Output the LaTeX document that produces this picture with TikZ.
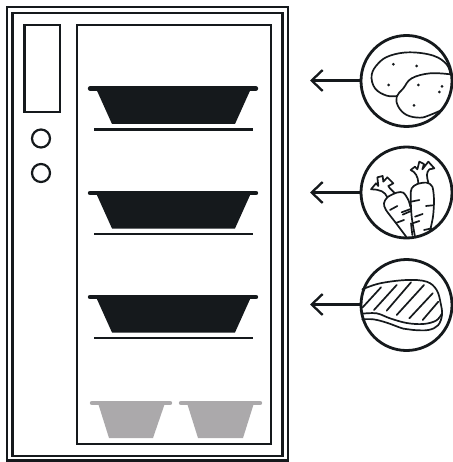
\documentclass[tikz,border=0pt]{standalone}
\usetikzlibrary{arrows.meta}
\definecolor{ink}{HTML}{15191C}
\definecolor{pale}{HTML}{ABA9AB}
\tikzset{
  frameline/.style={draw=ink,line width=2.2pt},
  knob/.style={circle,draw=ink,line width=2.2pt,minimum size=18pt,inner sep=0pt},
  foodring/.style={circle,draw=ink,line width=2.8pt,minimum size=91pt,inner sep=0pt},
  pointer/.style={draw=ink,line width=2.3pt,-{Straight Barb[length=11pt,width=21pt,line width=2.3pt]}},
  rim/.style={line width=4.4pt,line cap=round},
  shelf/.style={draw=ink,line width=2.3pt},
  sketch/.style={draw=ink,line width=1.7pt,line cap=round,line join=round},
  speck/.style={fill=ink,draw=none},
  zoomed/.style={x=0.33333pt,y=-0.33333pt}
}
\newcommand{\bigpan}[1]{%
  \fill[ink] (96,#1) -- (112,#1+35.5) -- (235,#1+35.5) -- (251,#1) -- cycle;
  \draw[ink,rim] (90,#1) -- (256,#1);
  \draw[shelf] (94,#1+41) -- (253,#1+41);
}
\newcommand{\smallpan}[4]{%
  \fill[pale] (#1,403) -- (#2,438) -- (#3,438) -- (#4,403) -- cycle;
}
\begin{document}
\begin{tikzpicture}[x=1pt,y=-1pt]
\useasboundingbox (0,0) rectangle (452,462);
\fill[white] (0,0) rectangle (452,462);
% cabinet
\draw[frameline] (7,7) rectangle (288,460.5);
\draw[frameline] (12.5,13) rectangle (282.5,456);
\draw[frameline] (77,25) rectangle (271,444);
\draw[frameline] (24.5,25) rectangle (60,112);
\node[knob] (k1) at (41,138.5) {};
\node[knob] (k2) at (41,173) {};
% pans
\bigpan{88.5}
\bigpan{193}
\bigpan{297}
\smallpan{98}{109}{153}{165}
\smallpan{187}{198}{243}{254}
\draw[pale,rim] (92,403) -- (170,403);
\draw[pale,rim] (181,403) -- (260,403);
% rings and pointers
\node[foodring] (r1) at (406.5,81) {};
\node[foodring] (r2) at (406.5,192.5) {};
\node[foodring] (r3) at (406.5,305) {};
\coordinate (t1) at (310,80.5);
\coordinate (t2) at (310,192.5);
\coordinate (t3) at (310,304.5);
\draw[pointer] (r1.west |- t1) -- (t1);
\draw[pointer] (r2.west |- t2) -- (t2);
\draw[pointer] (r3.west |- t3) -- (t3);
% potatoes
\begin{scope}[shift={(300,25)},zoomed]
\draw[sketch] plot[smooth,tension=0.65] coordinates {(451,148) (440,118) (400,92) (330,82) (270,92) (235,115) (215,150) (225,190) (260,212) (292,213)};
\draw[sketch] plot[smooth,tension=0.65] coordinates {(451,148) (390,145) (335,160) (310,190) (290,215) (295,245) (320,270) (360,278) (390,270) (425,255)};
\foreach \p in {(280,118),(350,123),(266,180),(355,180),(426,184),(418,201),(342,241)}
  \fill[speck] \p circle (4.5);
\end{scope}
% carrots
\begin{scope}[shift={(300,140)},zoomed]
\draw[sketch] plot[smooth,tension=0.5] coordinates {(345,290) (335,230) (332,170) (335,145) (352,132) (380,128) (397,140) (402,180) (399,230) (390,272)};
\draw[sketch] (355,130) .. controls (355,110) and (345,95) .. (332,90) -- (345,80) -- (352,88) -- (358,65) -- (372,72) -- (367,88) -- (385,65) -- (403,85) -- (388,88) .. controls (378,98) and (380,110) .. (385,127);
\draw[sketch] (333,185) -- (358,180);
\draw[sketch] (397,196) -- (378,198);
\draw[sketch] (345,230) -- (368,222);
\draw[sketch] (337,250) -- (358,243);
\draw[sketch] (395,265) -- (372,270);
\draw[sketch] plot[smooth,tension=0.5] coordinates {(320,292) (290,252) (258,210) (252,190) (262,172) (290,158) (310,158) (325,180) (331,200)};
\draw[sketch] (337,285) -- (333,250);
\draw[sketch] (262,172) .. controls (255,155) and (240,148) .. (213,148) -- (228,130) -- (235,138) -- (232,112) -- (248,108) -- (250,125) -- (262,112) -- (280,130) -- (265,138) .. controls (268,145) and (278,152) .. (285,160);
\draw[sketch] (270,210) -- (292,198);
\draw[sketch] (305,217) -- (332,207);
\draw[sketch] (308,224) -- (333,213);
\draw[sketch] (290,248) -- (312,240);
\end{scope}
% steak
\begin{scope}[shift={(300,250)},zoomed]
\draw[sketch] plot[smooth,tension=0.6] coordinates {(187,118) (240,100) (320,90) (380,95) (410,120) (422,160) (426,195) (414,226) (385,240) (340,240) (310,236) (260,218) (220,208) (187,208)};
\draw[sketch] plot[smooth,tension=0.6] coordinates {(187,191) (230,190) (270,205) (320,219) (370,222) (408,212) (425,192)};
\draw[sketch] (188,172) -- (243,112);
\draw[sketch] (222,180) -- (290,105);
\draw[sketch] (260,182) -- (333,97);
\draw[sketch] (290,195) -- (372,105);
\draw[sketch] (328,205) -- (398,130);
\draw[sketch] (368,210) -- (415,155);
\end{scope}
\end{tikzpicture}
\end{document}
